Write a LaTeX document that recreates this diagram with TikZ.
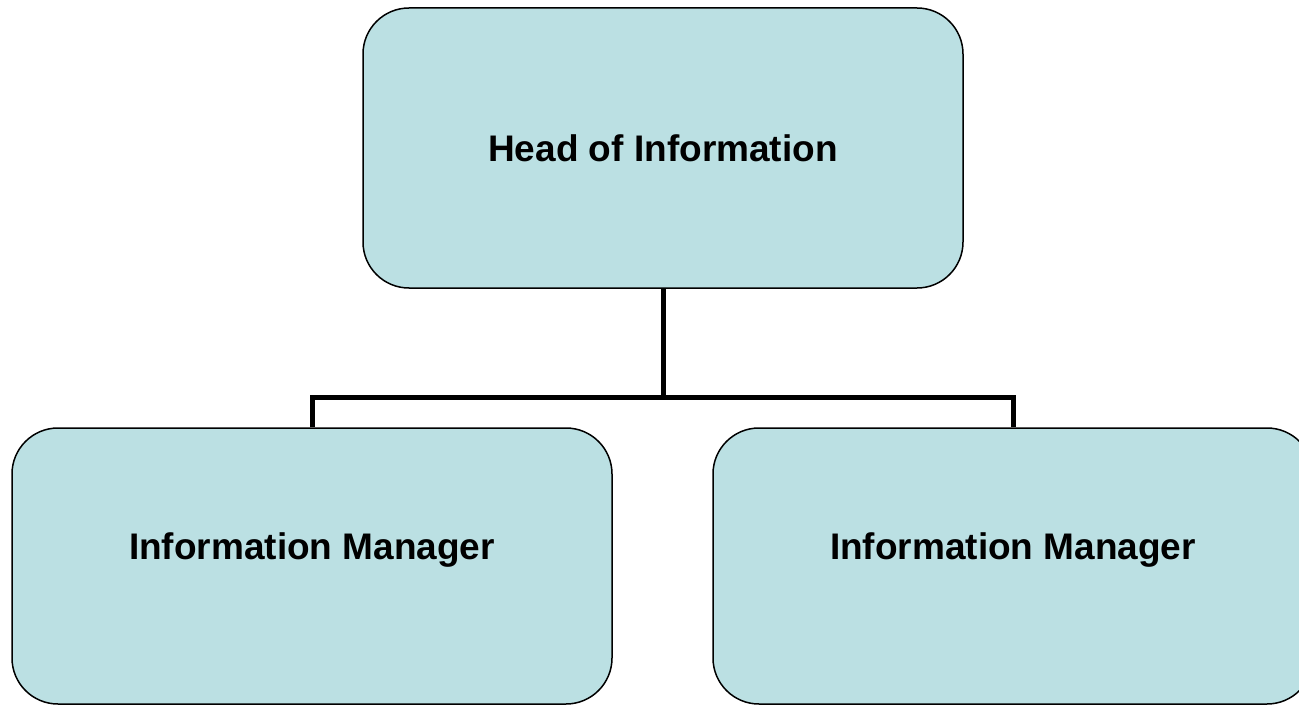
\documentclass[tikz,border=0pt]{standalone}
\usepackage{fontspec}
\setmainfont{Liberation Sans}
\usetikzlibrary{positioning}
\definecolor{boxfill}{HTML}{BBE0E3}

\begin{document}
\begin{tikzpicture}[x=1pt,y=-1pt,
    block_org/.style ={rectangle, draw=black, line width=1.5pt, fill=boxfill,
      rounded corners=46pt, minimum width=600pt, inner sep=0pt},
    block_text/.style ={font=\fontsize{37}{44}\selectfont\bfseries},
    line/.style ={draw, line width=5pt}]
    \useasboundingbox (0,0) rectangle (1299,706);
    \clip (0,0) rectangle (1299,706);
    % boxes of the org chart
    \node [block_org, minimum height=280pt] (head) at (663,148) {};
    \node [block_text] (headtext) at (head.center) {Head of Information};
    \node [block_org, minimum height=276pt] (mgrleft) at (312,566) {};
    \node [block_text, above=-5pt of mgrleft.center] (mgrlefttext) {Information Manager};
    \node [block_org, minimum height=276pt] (mgrright) at (1013,566) {};
    \node [block_text, above=-5pt of mgrright.center] (mgrrighttext) {Information Manager};
    % connecting nodes with paths
    \coordinate (fork) at (663,397);
    \begin{scope}[every path/.style=line]
      \path (head.south) -- (fork);
      \path (mgrleft.north) |- (fork);
      \path (mgrright.north) |- (fork);
    \end{scope}
  \end{tikzpicture}
\end{document}
